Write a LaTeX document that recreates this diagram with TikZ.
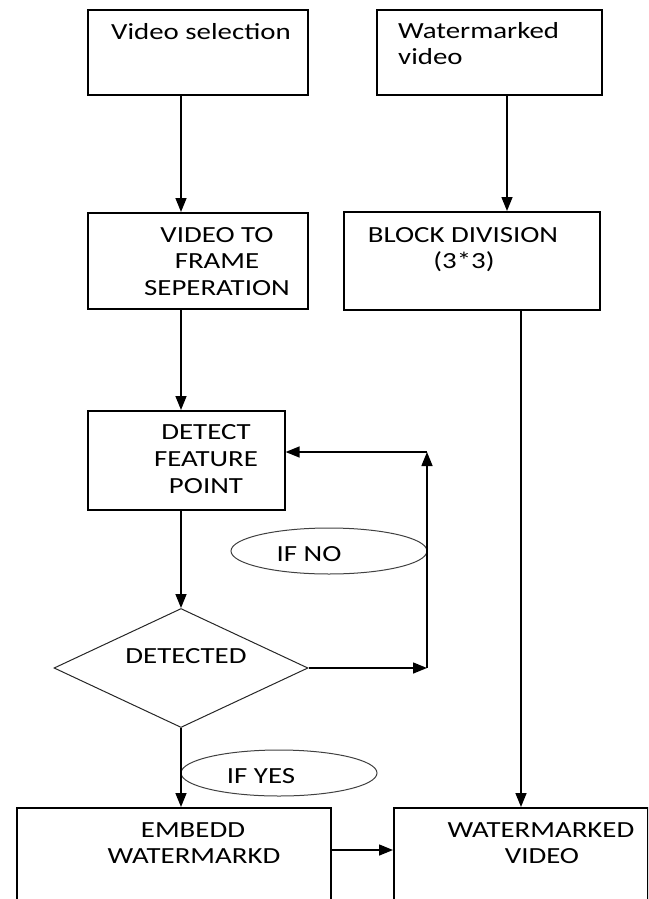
\documentclass[tikz,border=0pt]{standalone}
\usepackage{fontspec}
\setmainfont{Carlito}[FakeStretch=1.25]
\usetikzlibrary{arrows.meta,shapes.geometric}
\begin{document}
\begin{tikzpicture}[x=1pt,y=-1pt,
  box/.style={draw=black,line width=1.6pt,inner sep=0pt,anchor=north west,fill=white},
  arr/.style={draw=black,line width=1.5pt,-{Triangle[length=14pt,width=11pt]}},
  decis/.style={draw=black!85,line width=1pt,diamond,inner sep=0pt,minimum width=254pt,minimum height=119pt},
  oval/.style={draw=black!75,line width=1pt,ellipse,inner sep=0pt,minimum width=196pt,minimum height=46pt},
  txt/.style={inner sep=0pt,anchor=base,font=\fontsize{23.1}{26.5}\selectfont},
  txtl/.style={txt,anchor=base west}]
\useasboundingbox (0,0) rectangle (648,899);
\clip (0,0) rectangle (648,899);
% column coordinates
\coordinate (colA) at (181,0);
\coordinate (colB) at (507,0);
\coordinate (colC) at (521,0);
% boxes
\node[box,minimum width=220pt,minimum height=85pt] (b1) at (87,9) {};
\node[box,minimum width=225pt,minimum height=85pt] (b2) at (376,9) {};
\node[box,minimum width=220pt,minimum height=96pt] (b3) at (87,212) {};
\node[box,minimum width=256pt,minimum height=98pt] (b4) at (343,211) {};
\node[box,minimum width=197pt,minimum height=99pt] (b5) at (87,410) {};
\node[decis] (d) at (181,668) {};
\node[oval] (e1) at (329,551) {};
\node[oval] (e2) at (279,773) {};
\node[box,minimum width=314pt,minimum height=140pt] (b6) at (16,807) {};
\node[box,minimum width=254pt,minimum height=140pt] (b7) at (393,807) {};
% texts
\node[txt] (t1) at (201,40) {Video selection};
\node[txtl] (t2a) at (398,38) {Watermarked};
\node[txtl] (t2b) at (398,65) {video};
\node[txt] (t3a) at (217,242) {VIDEO TO};
\node[txt] (t3b) at (217,268) {FRAME};
\node[txt] (t3c) at (217,295) {SEPERATION};
\node[txt] (t4a) at (463,242) {BLOCK DIVISION};
\node[txt] (t4b) at (464,268) {(3*3)};
\node[txt] (t5a) at (206,439) {DETECT};
\node[txt] (t5b) at (206,466) {FEATURE};
\node[txt] (t5c) at (206,493) {POINT};
\node[txt] (td) at (186,663) {DETECTED};
\node[txt] (te1) at (309,561) {IF NO};
\node[txt] (te2) at (261,783) {IF YES};
\node[txt] (t6a) at (193,837) {EMBEDD};
\node[txt] (t6b) at (194,863) {WATERMARKD};
\node[txt] (t7a) at (541,837) {WATERMARKED};
\node[txt] (t7b) at (542,863) {VIDEO};
% helper coordinates
\coordinate (c1) at (427,668);
\coordinate (c2) at (427,452);
\coordinate (r) at (0,850);
% connectors
\draw[arr] (b1.south -| colA) -- (b3.north -| colA);
\draw[arr] (b2.south -| colB) -- (b4.north -| colB);
\draw[arr] (b3.south -| colA) -- (b5.north -| colA);
\draw[arr] (b5.south -| colA) -- (d.north);
\draw[arr] (d.east) -- (c1);
\draw[arr] (c1) -- (c2);
\draw[arr] (c2) -- (b5.east |- c2);
\draw[arr] (d.south) -- (b6.north -| colA);
\draw[arr] (b4.south -| colC) -- (b7.north -| colC);
\draw[arr] (b6.east |- r) -- (b7.west |- r);
\end{tikzpicture}
\end{document}
